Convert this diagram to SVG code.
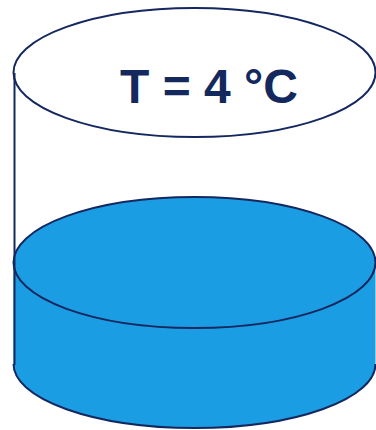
<svg xmlns="http://www.w3.org/2000/svg" width="376" height="430" viewBox="0 0 376 430">
<style>
.ln{stroke:#14285f;stroke-width:2;fill:none}
.water{fill:#1b9de4}
.lbl{font-family:"Liberation Sans",Arial,sans-serif;font-weight:bold;font-size:48px;fill:#13295e}
</style>
<rect width="376" height="430" fill="#fff"/>
<g id="lid">
<ellipse class="ln" cx="194.5" cy="72.5" rx="181" ry="64.5"/>
<text class="lbl" x="209" y="103" text-anchor="middle">T = 4 °C</text>
</g>
<g id="water">
<path class="water" d="M13.5,263 L13.5,364 A181,64 0 0 0 375.5,364 L375.5,263 Z"/>
<path class="ln" d="M13.5,364 A181,64 0 0 0 375.5,364"/>
<ellipse class="ln water" cx="194.5" cy="262.5" rx="181" ry="65.5" style="fill:#1b9de4"/>
</g>
<g id="connectors">
<line class="ln" x1="14.5" y1="73" x2="14.5" y2="365"/>
</g>
</svg>
